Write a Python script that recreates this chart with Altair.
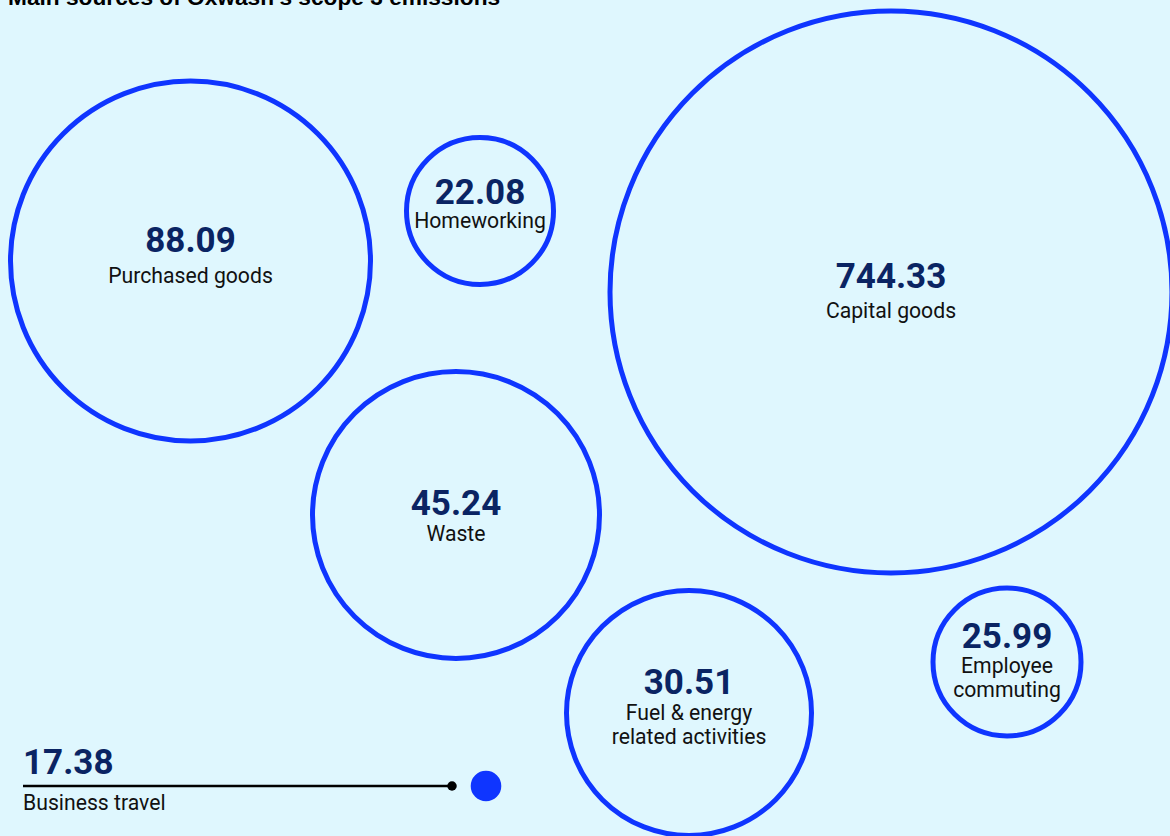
import altair as alt
import pandas as pd

# ---- data ----
categories = ["Purchased goods", "Homeworking", "Capital goods", "Waste",
              "Fuel & energy related activities", "Employee commuting", "Business travel"]
label_lines = ["Purchased goods", "Homeworking", "Capital goods", "Waste",
               "Fuel & energy\nrelated activities", "Employee\ncommuting", "Business travel"]
values = [88.09, 22.08, 744.33, 45.24, 30.51, 25.99, 17.38]
title_text = "Main sources of Oxwash's scope 3 emissions"

# ---- layout (bubble packing, in chart pixel units) ----
cx = [190.5, 480, 891, 456, 689, 1007, 486]
cy = [261, 211, 292, 515, 713, 662, 786]
radius = [180, 73.5, 281, 143.5, 122.5, 74, 15.3]
kind = ["ring", "ring", "ring", "ring", "ring", "ring", "dot"]
num_y = [252, 204, 288, 515, 694, 648, 774]
label_y = [283, 228, 318, 541, 720, 673, 810]
text_x = [190.5, 480, 891, 456, 689, 1007, 23]
text_align = ["center"] * 6 + ["left"]

# leader line for the small bubble
leader_x0, leader_x1, leader_y = 23, 452, 786

W, H = 1170, 836
BLUE = "#0f35ff"
NAVY = "#0a2463"
BG = "#dff7fe"

df = pd.DataFrame({
    "category": categories, "label": label_lines, "value": values,
    "cx": cx, "cy": cy, "r": radius, "kind": kind,
    "num_y": num_y, "label_y": label_y, "tx": text_x, "align": text_align,
})
df["num"] = df["value"].map(lambda v: f"{v:.2f}")
df["size"] = (2 * df["r"]) ** 2

xs = alt.Scale(domain=[0, W], nice=False, zero=False)
ys = alt.Scale(domain=[H, 0], nice=False, zero=False)

base = alt.Chart(df)

rings = base.transform_filter(alt.datum.kind == "ring").mark_point(
    shape="circle", filled=False, stroke=BLUE, strokeWidth=5, opacity=1
).encode(
    x=alt.X("cx:Q", scale=xs, axis=None),
    y=alt.Y("cy:Q", scale=ys, axis=None),
    size=alt.Size("size:Q", scale=None, legend=None),
)

dot = base.transform_filter(alt.datum.kind == "dot").mark_point(
    shape="circle", filled=True, fill=BLUE, opacity=1, strokeWidth=0
).encode(
    x=alt.X("cx:Q", scale=xs, axis=None),
    y=alt.Y("cy:Q", scale=ys, axis=None),
    size=alt.Size("size:Q", scale=None, legend=None),
)

leader_df = pd.DataFrame({"x0": [leader_x0], "x1": [leader_x1], "y": [leader_y]})
leader = alt.Chart(leader_df).mark_rule(color="#000000", strokeWidth=2.5).encode(
    x=alt.X("x0:Q", scale=xs, axis=None),
    x2="x1:Q",
    y=alt.Y("y:Q", scale=ys, axis=None),
)
leader_end = alt.Chart(leader_df).mark_point(
    shape="circle", filled=True, fill="#000000", opacity=1, size=90, strokeWidth=0
).encode(
    x=alt.X("x1:Q", scale=xs, axis=None),
    y=alt.Y("y:Q", scale=ys, axis=None),
)

def text_layer(align):
    sub = base.transform_filter(alt.datum.align == align)
    nums = sub.mark_text(
        font="Roboto", fontWeight="bold", fontSize=35, color=NAVY,
        align=align, baseline="alphabetic"
    ).encode(
        x=alt.X("tx:Q", scale=xs, axis=None),
        y=alt.Y("num_y:Q", scale=ys, axis=None),
        text="num:N",
    )
    labs = sub.mark_text(
        font="Roboto", fontSize=21.2, color="#111111", align=align,
        baseline="alphabetic", lineBreak="\n", lineHeight=24
    ).encode(
        x=alt.X("tx:Q", scale=xs, axis=None),
        y=alt.Y("label_y:Q", scale=ys, axis=None),
        text="label:N",
    )
    return nums + labs

title_df = pd.DataFrame({"t": [title_text], "x": [8], "y": [4.5]})
title = alt.Chart(title_df).mark_text(
    font="Liberation Sans", fontWeight="bold", fontSize=22.7, color="#000000",
    align="left", baseline="alphabetic"
).encode(
    x=alt.X("x:Q", scale=xs, axis=None),
    y=alt.Y("y:Q", scale=ys, axis=None),
    text="t:N",
)

chart = alt.layer(
    rings, leader, leader_end, dot, text_layer("center"), text_layer("left"), title
).properties(
    width=W, height=H, background=BG, padding=0,
    autosize=alt.AutoSizeParams(type="none"),
).configure_view(stroke=None)

chart.save("out.html", embed_options={"renderer": "svg", "actions": False})
